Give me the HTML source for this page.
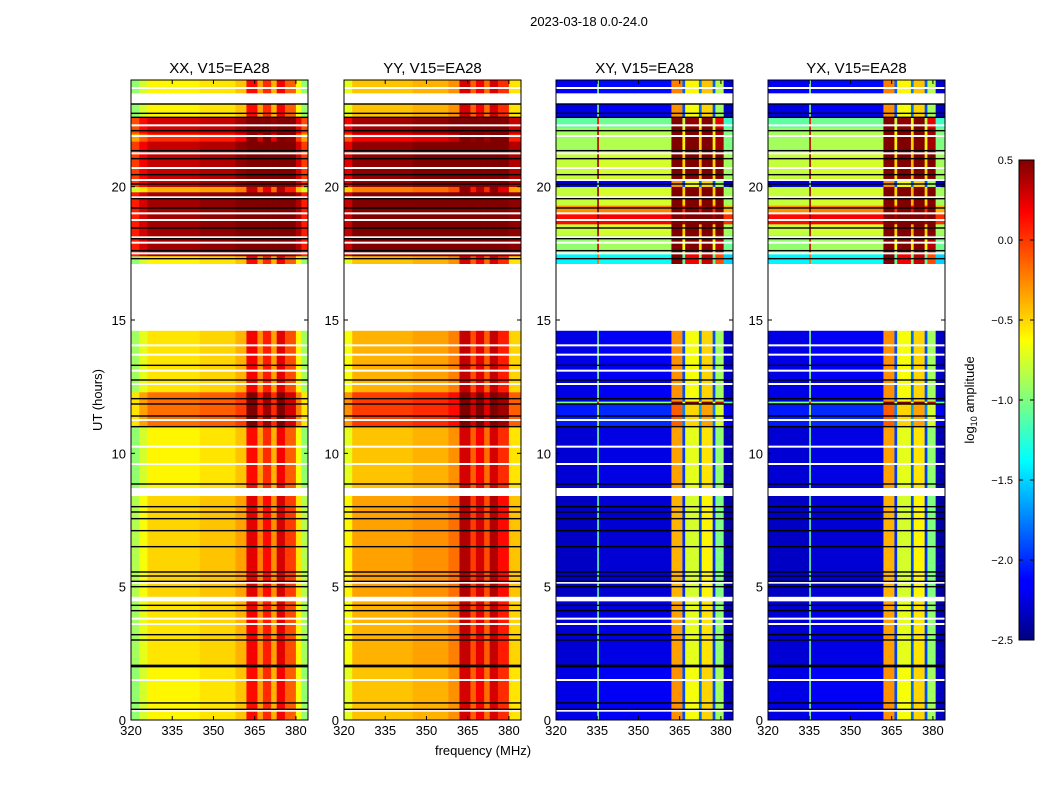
<!DOCTYPE html>
<html><head><meta charset="utf-8"><style>
body{margin:0;background:#fff;}
svg text{font-family:"Liberation Sans",sans-serif;fill:#000;}
</style></head><body>
<svg id="chart" width="1050" height="800" xmlns="http://www.w3.org/2000/svg">
<defs>
<linearGradient id="jetg" x1="0" y1="1" x2="0" y2="0">
<stop offset="0" stop-color="#00007f"/><stop offset="0.11" stop-color="#0000ff"/><stop offset="0.125" stop-color="#0000ff"/>
<stop offset="0.34" stop-color="#00dcff"/><stop offset="0.375" stop-color="#00ffff"/><stop offset="0.5" stop-color="#7fff7f"/>
<stop offset="0.625" stop-color="#ffff00"/><stop offset="0.66" stop-color="#ffdc00"/><stop offset="0.89" stop-color="#ff0000"/><stop offset="1" stop-color="#7f0000"/>
</linearGradient>
</defs>
<text x="589" y="26" font-size="13" text-anchor="middle">2023-03-18 0.0-24.0</text>
<text x="483" y="755" font-size="13" text-anchor="middle">frequency (MHz)</text>
<text transform="translate(102,400) rotate(-90)" font-size="13" text-anchor="middle">UT (hours)</text>
<g id="panels"></g>
<rect x="1019" y="160" width="15" height="480" fill="url(#jetg)" stroke="#000" stroke-width="1"/>
<g id="cbticks"></g>
<text transform="translate(974,400) rotate(-90)" font-size="13" text-anchor="middle">log<tspan font-size="9" dy="3">10</tspan><tspan dy="-3"> amplitude</tspan></text>
</svg>
<script>
const titles = ["XX, V15=EA28","YY, V15=EA28","XY, V15=EA28","YX, V15=EA28"];
const panelX = [131,344,556,768];
const xTicks = [320,335,350,365,380];
const yTicks = [0,5,10,15,20];
const cbTicks = [0.5,0.0,-0.5,-1.0,-1.5,-2.0,-2.5];
// frequency bands [f0,f1,log10 amp]
const colsXX = [[320,323,-0.95],[323,326,-0.75],[326,345,-0.6],[345,358,-0.55],[358,362,-0.45],[362,366,0.1],[366,368,-0.35],[368,371,0.0],[371,373,-0.4],[373,376,0.15],[376,380,-0.15],[380,382,-0.65],[382,385,-0.95]];
const colsYY = [[320,323,-0.7],[323,345,-0.45],[345,358,-0.4],[358,362,-0.3],[362,366,0.25],[366,368,-0.15],[368,371,0.15],[371,373,-0.2],[373,376,0.25],[376,380,0.0],[380,385,-0.55]];
const colsXY = [[320,335,-2.3],[335,335.6,-1.1],[335.6,362,-2.25],[362,366,-0.4],[366,367,-2.0],[367,372,-0.75],[372,373,-1.9],[373,377,-0.6],[377,378,-2.0],[378,381,-1.0],[381,385,-2.4]];
// time bands [t0,t1,offset]
const rowsXX = [[0,2,0.0],[2,4.5,0.05],[4.6,8.4,0.1],[8.7,11,0.0],[11,12.3,0.4],[12.3,14.6,0.05],[17.1,17.4,0.0],[17.4,19.8,1.0],[19.8,20.0,0.2],[20.0,21.7,0.9],[21.7,22.0,0.6],[22.0,22.6,0.85],[22.6,23.1,0.0],[23.5,24,0.0]];
const rowsXY = [[0,2,0.1],[2,4.5,0.05],[4.6,8.4,0.0],[8.7,11,0.05],[11,11.85,0.25],[11.85,11.95,1.3],[11.95,14.6,0.1],[17.1,17.5,0.9],[17.5,18.2,1.35],[18.2,18.6,1.5],[18.6,19.0,2.4],[19.0,19.3,2.0],[19.3,20.0,1.5],[20.0,20.3,0.1],[20.3,21.3,1.5],[21.3,22.2,1.4],[22.2,22.6,1.2],[22.6,23.1,0.1],[23.5,24,0.15]];
const gaps = [[4.45,4.62],[8.4,8.7],[14.6,17.1],[23.1,23.5]];
const whiteLines = [0.35,1.5,3.6,3.8,5.15,9.6,10.25,11.25,12.6,13.1,13.7,14.05,17.5,17.9,18.1,18.75,19.0,19.6,20.25,20.7,21.25,21.9,22.3,23.7];
const blackLines = [0.4,0.64,2.0,2.05,3.0,3.2,4.1,4.3,5.0,5.2,5.4,5.55,6.5,7.1,7.55,7.8,8.0,8.85,11.0,11.4,11.85,12.05,12.75,13.3,17.3,17.6,18.05,18.45,19.2,19.55,20.1,20.45,21.05,21.35,22.1,22.6,22.75,23.1];

const W = 177, T = 80, B = 720, F0 = 320, F1 = 384.4;
function jet(v){let x=(v+2.5)/3;x=Math.max(0,Math.min(1,x));
 const c=a=>Math.round(255*Math.max(0,Math.min(1,1.5-Math.abs(4*x-a))));
 return `rgb(${c(3)},${c(2)},${c(1)})`;}
const NS="http://www.w3.org/2000/svg";
function mk(tag,attrs,parent){const e=document.createElementNS(NS,tag);for(const k in attrs)e.setAttribute(k,attrs[k]);parent.appendChild(e);return e;}
const yS=t=>B-(t/24)*(B-T);
const root=document.getElementById('panels');
[[colsXX,rowsXX],[colsYY,rowsXX],[colsXY,rowsXY],[colsXY,rowsXY]].forEach(([cols,rows],p)=>{
 const x0=panelX[p];const xS=f=>x0+(f-F0)/(F1-F0)*W;
 const g=mk('g',{},root);
 
 
 const cp=mk('clipPath',{id:'cp'+p},g);mk('rect',{x:x0,y:T,width:W,height:B-T},cp);
 const cells=mk('g',{'clip-path':`url(#cp${p})`},g);
 rows.forEach(r=>cols.forEach(c=>{
  const e=mk('rect',{x:xS(c[0]),y:yS(r[1]),width:xS(c[1])-xS(c[0])+0.3,height:yS(r[0])-yS(r[1])+0.3,fill:jet(c[2]+r[2])},cells);
  
  
 }));
 gaps.forEach(gp=>mk('rect',{x:x0,y:yS(gp[1]),width:W,height:yS(gp[0])-yS(gp[1]),fill:'#fff'},cells));
 whiteLines.forEach(t=>mk('rect',{x:x0,y:yS(t)-1,width:W,height:2,fill:'#fff'},cells));
 blackLines.forEach(t=>mk('rect',{x:x0,y:yS(t)-0.7,width:W,height:1.4,fill:'#000'},cells));
 mk('rect',{x:x0,y:T,width:W,height:B-T,fill:'none',stroke:'#000','stroke-width':1},g);
 const tt=mk('text',{x:x0+W/2,y:73,'font-size':15,'text-anchor':'middle'},g);tt.textContent=titles[p];
 
 
 xTicks.forEach(f=>{const x=xS(f);
  mk('line',{x1:x,x2:x,y1:B,y2:B-4,stroke:'#000'},g);mk('line',{x1:x,x2:x,y1:T,y2:T+4,stroke:'#000'},g);
  const l=mk('text',{x:x,y:B+15,'font-size':13,'text-anchor':'middle'},g);l.textContent=f;
  
  });
 yTicks.forEach(t=>{const y=yS(t);
  mk('line',{x1:x0,x2:x0+4,y1:y,y2:y,stroke:'#000'},g);mk('line',{x1:x0+W,x2:x0+W-4,y1:y,y2:y,stroke:'#000'},g);
  const l=mk('text',{x:x0-5,y:y+5,'font-size':13,'text-anchor':'end'},g);l.textContent=t;
  
  });
});
const cb=document.getElementById('cbticks');
cbTicks.forEach(v=>{const y=640-(v+2.5)/3*480;
 mk('line',{x1:1019,x2:1023,y1:y,y2:y,stroke:'#000'},cb);mk('line',{x1:1034,x2:1030,y1:y,y2:y,stroke:'#000'},cb);
 const l=mk('text',{x:1013,y:y+4,'font-size':11,'text-anchor':'end'},cb);l.textContent=v.toFixed(1).replace('-','\u2212');
 
 });
</script>
</body></html>
